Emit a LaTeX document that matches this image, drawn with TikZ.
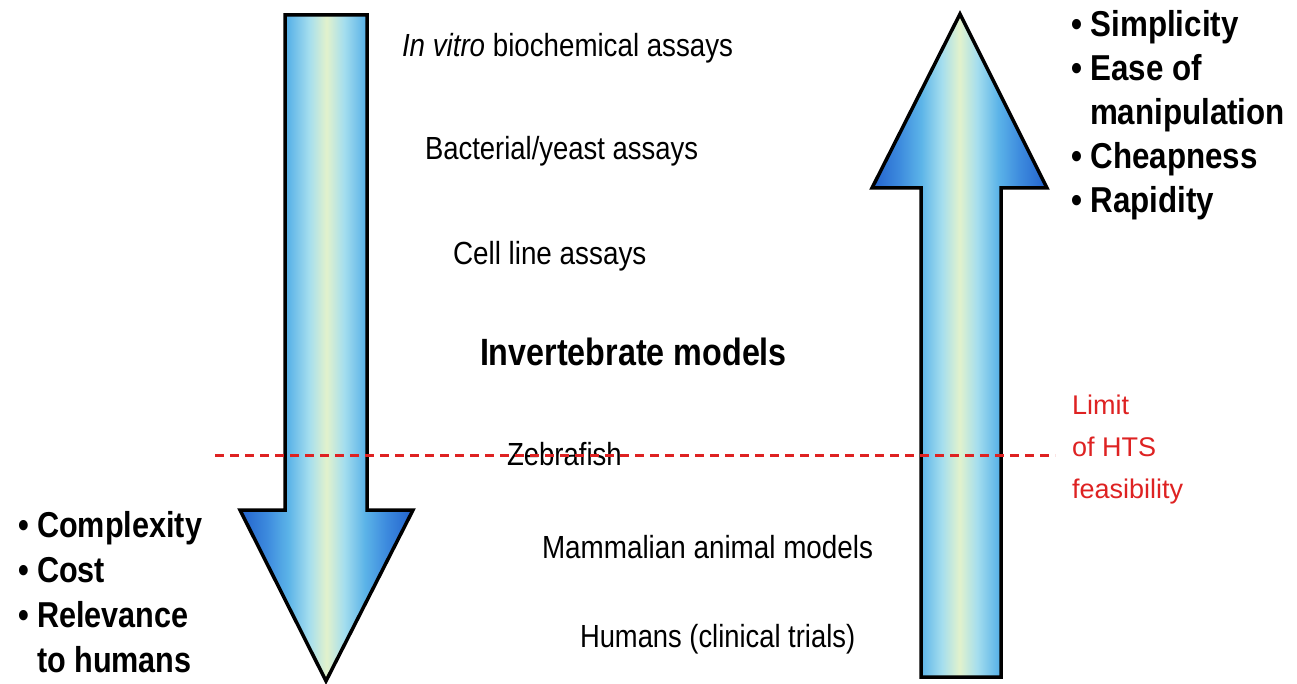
\documentclass[tikz,border=0pt]{standalone}
\usepackage{graphicx}
\usepackage{fontspec}
\setmainfont{Liberation Sans}
\definecolor{deepb}{RGB}{34,98,204}
\definecolor{midb}{RGB}{62,140,222}
\definecolor{shaftb}{RGB}{92,180,232}
\definecolor{lightc}{RGB}{165,222,238}
\definecolor{palec}{RGB}{226,242,204}
\definecolor{limitred}{RGB}{222,34,34}
\pgfdeclarehorizontalshading{arrowshade}{100bp}{color(0bp)=(deepb); color(25bp)=(deepb); color(33bp)=(midb); color(39bp)=(shaftb); color(45bp)=(lightc); color(50bp)=(palec); color(55bp)=(lightc); color(61bp)=(shaftb); color(67bp)=(midb); color(75bp)=(deepb); color(100bp)=(deepb)}
\newcommand{\txt}[3]{\scalebox{#2}[1]{\fontsize{#1}{#1}\selectfont #3}}
\tikzset{
  bigarrow/.style={shading=arrowshade, draw=black, line width=3.5pt, line join=miter},
  lbl/.style={anchor=base west, inner sep=0pt, outer sep=0pt, text=black},
  redlbl/.style={anchor=base west, inner sep=0pt, outer sep=0pt, text=limitred},
  limitline/.style={draw=limitred, line width=3pt, dash pattern=on 9pt off 6pt}
}
\begin{document}
\begin{tikzpicture}[x=1pt,y=-1pt]
\useasboundingbox[fill=white] (0,0) rectangle (1297,684);
% left (downward) arrow
\shadedraw[bigarrow] (285,15) -- (367,15) -- (367,510) -- (413,510) -- (326,681) -- (240,510) -- (285,510) -- cycle;
% right (upward) arrow
\shadedraw[bigarrow] (960,14) -- (1047,188) -- (1001,188) -- (1001,677) -- (921,677) -- (921,188) -- (872,188) -- cycle;
% centre labels
\node[lbl] (invitro) at (402,57) {\txt{32}{0.866}{\textit{In vitro} biochemical assays}};
\node[lbl] (bact) at (425,160) {\txt{32}{0.858}{Bacterial/yeast assays}};
\node[lbl] (cell) at (453,265) {\txt{32}{0.87}{Cell line assays}};
\node[lbl] (invert) at (480,365) {\txt{38}{0.85}{\bfseries Invertebrate models}};
\node[lbl] (zebra) at (507,465) {\txt{32}{0.86}{Zebrafish}};
\node[lbl] (mammal) at (542,558) {\txt{32}{0.87}{Mammalian animal models}};
\node[lbl] (humans) at (580,647) {\txt{32}{0.855}{Humans (clinical trials)}};
% right list
\node[lbl] (simp) at (1071,37) {\txt{36}{0.87}{\bfseries • Simplicity}};
\node[lbl] (ease) at (1071,81) {\txt{36}{0.87}{\bfseries • Ease of}};
\node[lbl] (manip) at (1090,125) {\txt{36}{0.87}{\bfseries manipulation}};
\node[lbl] (cheap) at (1071,169) {\txt{36}{0.87}{\bfseries • Cheapness}};
\node[lbl] (rapid) at (1071,213) {\txt{36}{0.87}{\bfseries • Rapidity}};
% left list
\node[lbl] (compl) at (18,537) {\txt{36}{0.85}{\bfseries • Complexity}};
\node[lbl] (cost) at (18,582) {\txt{36}{0.85}{\bfseries • Cost}};
\node[lbl] (relev) at (18,627) {\txt{36}{0.85}{\bfseries • Relevance}};
\node[lbl] (tohum) at (37,672) {\txt{36}{0.85}{\bfseries to humans}};
% limit label
\node[redlbl] (limit1) at (1072,414) {\txt{27}{1}{Limit}};
\node[redlbl] (limit2) at (1072,456) {\txt{27}{1}{of HTS}};
\node[redlbl] (limit3) at (1072,498) {\txt{27}{1}{feasibility}};
% limit line
\coordinate (lineL) at (215,455);
\coordinate (lineR) at (1055,455);
\draw[limitline] (lineL) -- (lineR);
\end{tikzpicture}
\end{document}
